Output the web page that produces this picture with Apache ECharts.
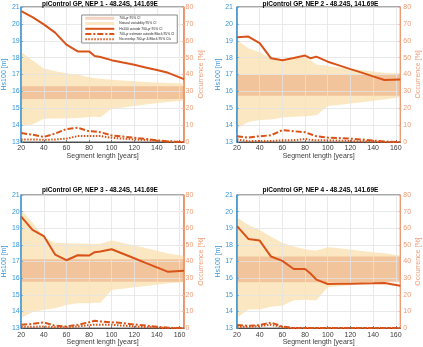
<!DOCTYPE html>
<html><head><meta charset="utf-8">
<script src="https://cdn.jsdelivr.net/npm/echarts@6/dist/echarts.min.js"></script>
<style>html,body{margin:0;padding:0;background:#fff}#c{width:423px;height:347px}</style>
</head><body><div id="c"></div>
<script>
// ---------------- data ----------------
const segLen = [20,30,40,50,60,70,80,85,90,100,110,120,130,140,150,164];
const panelTitles = [
  'piControl GP, NEP 1 - 48.24S, 141.69E',
  'piControl GP, NEP 2 - 48.24S, 141.69E',
  'piControl GP, NEP 3 - 48.24S, 141.69E',
  'piControl GP, NEP 4 - 48.24S, 141.69E'
];
const legendNames = ['700-yr 95% CI','Natural variability 95% CI','Hs100 outside 700-yr 95% CI','700-yr estimate outside Block 95% CI','No overlap 700-yr & Block 95% CIs'];
const hsTicks = [13,21,1];
const occTicks = [0,80,10];

// 700-yr 95% CI (Hs100, m) per panel
const ci700Lo = [15.55, 15.74, 15.79, 15.75];
const ci700Hi = [16.30, 16.98, 17.14, 17.30];

// Natural variability 95% CI (Hs100, m)
const natHi1 = [18.33,17.85,17.36,17.20,17.08,16.98,16.83,16.78,16.75,16.69,16.64,16.60,16.56,16.53,16.50,16.47];
const natLo1 = [13.97,14.03,14.38,14.40,14.40,14.42,14.48,14.50,14.47,14.97,15.05,15.13,15.22,15.30,15.37,15.45];
const natHi2 = [19.05,18.56,18.32,17.96,17.86,17.96,18.06,17.83,17.60,17.50,17.42,17.34,17.26,17.18,17.11,17.07];
const natLo2 = [13.80,14.19,14.30,14.33,14.45,14.49,14.53,14.56,14.59,15.13,15.20,15.28,15.36,15.44,15.52,15.65];
const natHi3 = [20.12,19.35,18.47,18.13,18.10,18.08,18.07,18.05,18.07,18.27,18.12,17.97,17.82,17.65,17.48,17.34];
const natLo3 = [13.64,13.96,14.10,14.20,14.39,14.49,14.50,14.52,14.53,15.29,15.37,15.45,15.53,15.61,15.69,15.75];
const natHi4 = [19.65,19.19,18.89,18.49,18.13,17.90,17.74,17.70,17.66,17.86,17.80,17.72,17.64,17.56,17.50,17.36];
const natLo4 = [13.62,14.12,14.12,14.28,14.35,14.67,14.70,14.68,14.67,15.45,15.52,15.58,15.65,15.72,15.78,15.88];

// Occurrence (%) : Hs100 outside 700-yr 95% CI
const outside1 = [77.6,74.0,69.7,64.8,57.7,53.7,53.7,51.0,50.4,48.5,47.1,45.8,44.2,42.7,41.0,37.3];
const outside2 = [62.1,62.5,58.6,49.6,48.5,49.8,51.2,49.6,50.6,47.6,45.4,43.2,41.1,38.9,36.7,37.1];
const outside3 = [67.0,59.0,55.3,44.2,40.8,43.8,43.6,45.6,46.0,47.4,44.7,42.0,39.2,36.5,33.8,34.4];
const outside4 = [61.3,53.6,52.6,43.0,40.4,35.5,35.5,32.7,29.1,26.5,26.6,26.7,26.8,26.9,27.1,25.5];

// Occurrence (%) : 700-yr estimate outside Block 95% CI
const block1 = [5.3,4.3,3.0,5.0,7.7,8.4,6.4,6.2,5.8,3.9,3.2,2.5,1.8,1.0,0.3,0];
const block2 = [3.4,2.6,3.4,4.0,7.0,6.4,5.8,4.6,3.4,2.6,2.3,2.0,1.5,0.9,0.3,0];
const block3 = [2.0,2.5,3.4,1.4,1.0,2.0,3.5,4.4,4.0,3.5,3.0,2.2,1.5,0.8,0.2,0];
const block4 = [1.9,1.4,1.8,3.3,1.0,0,0,0,0,0,0,0,0,0,0,0];

// Occurrence (%) : No overlap 700-yr & Block 95% CIs
const noOverlap1 = [1.5,1.5,1.3,1.5,2.0,3.5,3.5,3.5,3.5,2.5,2.0,1.5,1.1,0.8,0.3,0];
const noOverlap2 = [1.5,0.5,0.6,0.6,1.0,1.0,1.8,1.2,1.0,1.0,0.8,0.6,0.4,0.2,0,0];
const noOverlap3 = [0.8,0.8,1.0,0.5,0.5,1.0,1.8,2.0,2.0,2.0,1.5,1.0,0.6,0.3,0,0];
const noOverlap4 = [0.8,0.8,1.2,2.0,0.5,0,0,0,0,0,0,0,0,0,0,0];

// ---------------- build ----------------
const natHi = [natHi1,natHi2,natHi3,natHi4];
const natLo = [natLo1,natLo2,natLo3,natLo4];
const outside = [outside1,outside2,outside3,outside4];
const block = [block1,block2,block3,block4];
const noOverlap = [noOverlap1,noOverlap2,noOverlap3,noOverlap4];

const FONT = '"Liberation Sans", Arial, Helvetica, sans-serif';
const BLUE = '#3A97DA', SALMON = '#EE9B74', RED = '#D95319', GRIDC = '#E3E3E3', DARK = '#262626';
const NAT = 'rgba(245,200,110,0.42)', C700 = 'rgba(225,130,82,0.35)';

const grids = [
  {left:16, top:7, width:168, height:135},
  {left:237, top:7, width:167, height:135},
  {left:16, top:195, width:168, height:134},
  {left:237, top:195, width:167, height:134}
];
const isRight = [false,true,false,true];

const pairs = (xs, ys) => xs.map((x,i)=>[x, ys[i]]);

// band drawn as one polygon through the axis scales
function bandRenderer(color) {
  return function (params, api) {
    if (params.dataIndex !== 0) return null;
    const n = segLen.length;
    const upper = [], lower = [];
    for (let k = 0; k < n; k++) {
      const x = api.value(0, k), lo = api.value(1, k), hi = api.value(2, k);
      upper.push(api.coord([x, hi]));
      lower.push(api.coord([x, lo]));
    }
    return {type:'polygon', shape:{points: upper.concat(lower.reverse())},
            style:{fill:color}, silent:true};
  };
}

const xAxis = [], yAxis = [], series = [], graphic = [];
grids.forEach((g,i)=>{
  g.show = true; g.borderColor = DARK; g.borderWidth = 0.8; g.backgroundColor = '#fff';
  xAxis.push({
    gridIndex:i, type:'value', min:segLen[0], max:segLen[segLen.length-1], interval:20,
    axisLine:{show:true, lineStyle:{color:DARK, width:0.8}},
    axisTick:{show:true, inside:true, length:2, lineStyle:{color:DARK, width:0.6}},
    axisLabel:{fontSize:7, color:'#404040', margin:3, fontFamily:FONT, showMaxLabel:false},
    splitLine:{show:true, lineStyle:{color:GRIDC, width:0.8}},
    name:'Segment length [years]', nameLocation:'middle', nameGap: i<2 ? 9.5 : 10,
    nameTextStyle:{fontSize:7, color:'#404040', fontFamily:FONT}, z:3
  });
  yAxis.push({
    gridIndex:i, type:'value', position:'left', min:hsTicks[0], max:hsTicks[1], interval:hsTicks[2],
    axisLine:{show:true, lineStyle:{color:BLUE, width:1.5}},
    axisTick:{show:true, inside:true, length:2, lineStyle:{color:BLUE, width:0.6}},
    axisLabel:{fontSize:7, color:BLUE, margin: isRight[i] ? 4 : 1.5, fontFamily:FONT},
    splitLine:{show:true, lineStyle:{color:GRIDC, width:0.8}},
    name:'Hs100 [m]', nameLocation:'middle', nameGap: isRight[i] ? 10.5 : 9,
    nameTextStyle:{fontSize:7, color:BLUE, fontFamily:FONT}, z:3
  });
  yAxis.push({
    gridIndex:i, type:'value', position:'right', min:occTicks[0], max:occTicks[1], interval:occTicks[2],
    axisLine:{show:true, lineStyle:{color:SALMON, width:1}},
    axisTick:{show:true, inside:true, length:2, lineStyle:{color:SALMON, width:0.6}},
    axisLabel:{fontSize:7, color:SALMON, margin: isRight[i] ? 3 : 1.5, fontFamily:FONT},
    splitLine:{show:false},
    name:'Occurrence [%]', nameLocation:'middle', nameGap: isRight[i] ? 4 : 11,
    nameTextStyle:{fontSize:7, color:SALMON, fontFamily:FONT}, z:3
  });
  const yl = 2*i, yr = 2*i+1;
  // natural variability band
  series.push({type:'custom', name:legendNames[1], xAxisIndex:i, yAxisIndex:yl, silent:true,
    renderItem: bandRenderer(NAT), itemStyle:{color:NAT},
    encode:{x:0, y:[1,2]},
    data: segLen.map((x,k)=>[x, natLo[i][k], natHi[i][k]]), z:1});
  // 700-yr band
  series.push({type:'custom', name:legendNames[0], xAxisIndex:i, yAxisIndex:yl, silent:true,
    renderItem: bandRenderer(C700), itemStyle:{color:C700},
    encode:{x:0, y:[1,2]},
    data: segLen.map((x)=>[x, ci700Lo[i], ci700Hi[i]]), z:2});
  const base = {type:'line', xAxisIndex:i, yAxisIndex:yr, symbol:'none', silent:true, z:3, clip:true};
  series.push(Object.assign({}, base, {name:legendNames[2], data:pairs(segLen, outside[i]),
    itemStyle:{color:RED}, lineStyle:{color:RED, width:2}}));
  series.push(Object.assign({}, base, {name:legendNames[3], data:pairs(segLen, block[i]),
    itemStyle:{color:RED}, lineStyle:{color:RED, width:2, type:[6,2,2,2]}}));
  series.push(Object.assign({}, base, {name:legendNames[4], data:pairs(segLen, noOverlap[i]),
    itemStyle:{color:RED}, lineStyle:{color:RED, width:2, type:[1.5,1.5]}}));
  // panel title
  graphic.push({type:'text', x: g.left + g.width/2, y: i<2 ? 0.5 : 186.5, z:10,
    style:{text:panelTitles[i], textAlign:'center', textVerticalAlign:'top',
      font:'bold 6.5px ' + FONT, fill:'#000'}});
});

const option = {
  animation:false,
  backgroundColor:'#fff',
  grid: grids,
  xAxis, yAxis, series, graphic,
  legend:{
    show:true, orient:'vertical', left:81.7, top:15, z:20,
    padding:[1.3,3,1.7,2.6], itemGap:1.25, itemWidth:29, itemHeight:3,
    backgroundColor:'#fff', borderColor:'#6f6f6f', borderWidth:0.8,
    textStyle:{fontSize:3.3, lineHeight:4, color:DARK, fontFamily:FONT},
    selectedMode:false,
    data:[
      {name:legendNames[0], icon:'rect', itemStyle:{color:C700}},
      {name:legendNames[1], icon:'rect', itemStyle:{color:NAT}},
      {name:legendNames[2], itemStyle:{opacity:0}},
      {name:legendNames[3], itemStyle:{opacity:0}},
      {name:legendNames[4], itemStyle:{opacity:0}}
    ]
  }
};
const chart = echarts.init(document.getElementById('c'), null, {renderer:'canvas'});
chart.setOption(option);
</script></body></html>
